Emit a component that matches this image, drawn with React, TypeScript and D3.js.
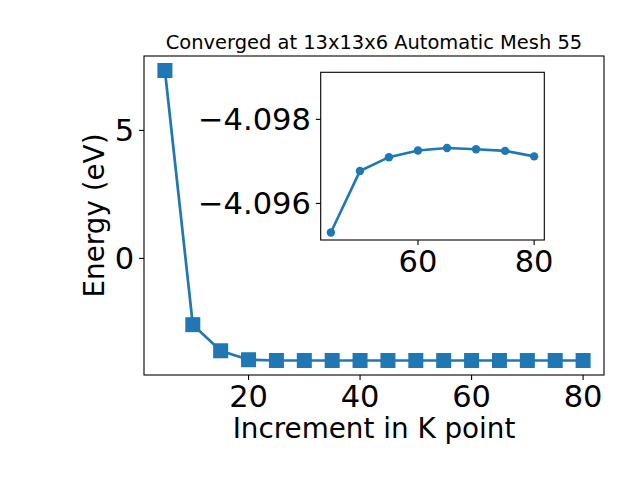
import React from "react";
import * as d3 from "d3";

const kPoints = [5, 10, 15, 20, 25, 30, 35, 40, 45, 50, 55, 60, 65, 70, 75, 80];
const energies = [7.34, -2.59, -3.61, -3.96, -3.99, -3.99, -3.99, -3.99, -3.99, -3.99, -3.99, -3.99, -3.99, -3.99, -3.99, -3.99];

const insetK = [45, 50, 55, 60, 65, 70, 75, 80];
const insetEnergy = [-4.09531, -4.09677, -4.0971, -4.09726, -4.09732, -4.09729, -4.09725, -4.09712];
const insetYLimits = [-4.09513, -4.09912];

const mainXTicks = [20, 40, 60, 80];
const mainYTicks = [0, 5];
const insetXTicks = [60, 80];
const insetYTicks = [-4.098, -4.096];

const titleText = "Converged at 13x13x6 Automatic Mesh 55";
const xLabel = "Increment in K point";
const yLabel = "Energy (eV)";

const COLOR = "#1f77b4";
const FONT = "DejaVu Sans";

function padded(ext: [number, number]): [number, number] {
  const m = (ext[1] - ext[0]) * 0.05;
  return [ext[0] - m, ext[1] + m];
}

export default function App() {
  const W = 640, H = 480;
  const L = 144, R = 604, T = 56, B = 375;
  const iL = 320.7, iR = 544.3, iT = 72.3, iB = 240;
  const tickLen = 4.9;
  const fs = 27.8;
  const tfs = 30.5;

  const x = d3.scaleLinear().domain(padded(d3.extent(kPoints) as [number, number])).range([L, R]);
  const y = d3.scaleLinear().domain(padded(d3.extent(energies) as [number, number])).range([B, T]);
  const ix = d3.scaleLinear().domain(padded(d3.extent(insetK) as [number, number])).range([iL, iR]);
  const iy = d3.scaleLinear().domain(insetYLimits).range([iB, iT]);

  const line = d3.line<number>().x((d, i) => x(kPoints[i])).y((d) => y(d));
  const iline = d3.line<number>().x((d, i) => ix(insetK[i])).y((d) => iy(d));
  const fmt3 = d3.format(".3f");
  const ms = 15;

  return (
    <svg width={W} height={H} style={{ display: "block", position: "absolute", left: 0, top: 0 }} fontFamily={FONT}>
      <rect x={0} y={0} width={W} height={H} fill="white" />
      {/* main plot */}
      <path d={line(energies) || ""} fill="none" stroke={COLOR} strokeWidth={2.7} />
      {energies.map((e, i) => (
        <rect key={i} x={x(kPoints[i]) - ms / 2} y={y(e) - ms / 2} width={ms} height={ms} fill={COLOR} />
      ))}
      <rect x={L} y={T} width={R - L} height={B - T} fill="none" stroke="black" strokeWidth={1.1} />
      {mainXTicks.map((t) => (
        <g key={t}>
          <line x1={x(t)} x2={x(t)} y1={B} y2={B + tickLen} stroke="black" strokeWidth={1.1} />
          <text x={x(t)} y={407} textAnchor="middle" fontSize={tfs}>{t}</text>
        </g>
      ))}
      {mainYTicks.map((t) => (
        <g key={t}>
          <line x1={L - tickLen} x2={L} y1={y(t)} y2={y(t)} stroke="black" strokeWidth={1.1} />
          <text x={L - tickLen - 4.9} y={y(t)} dy="0.36em" textAnchor="end" fontSize={tfs}>{t}</text>
        </g>
      ))}
      <text x={(L + R) / 2} y={438} textAnchor="middle" fontSize={fs}>{xLabel}</text>
      <text transform={`translate(104, ${(T + B) / 2}) rotate(-90)`} textAnchor="middle" fontSize={fs}>{yLabel}</text>
      <text x={(L + R) / 2} y={48.5} textAnchor="middle" fontSize={19.45}>{titleText}</text>

      {/* inset */}
      <rect x={iL} y={iT} width={iR - iL} height={iB - iT} fill="white" />
      <path d={iline(insetEnergy) || ""} fill="none" stroke={COLOR} strokeWidth={2.6} />
      {insetEnergy.map((e, i) => (
        <circle key={i} cx={ix(insetK[i])} cy={iy(e)} r={4.2} fill={COLOR} />
      ))}
      <rect x={iL} y={iT} width={iR - iL} height={iB - iT} fill="none" stroke="black" strokeWidth={1.1} />
      {insetXTicks.map((t) => (
        <g key={t}>
          <line x1={ix(t)} x2={ix(t)} y1={iB} y2={iB + tickLen} stroke="black" strokeWidth={1.1} />
          <text x={ix(t)} y={272} textAnchor="middle" fontSize={tfs}>{t}</text>
        </g>
      ))}
      {insetYTicks.map((t) => (
        <g key={t}>
          <line x1={iL - tickLen} x2={iL} y1={iy(t)} y2={iy(t)} stroke="black" strokeWidth={1.1} />
          <text x={iL - tickLen - 4.9} y={iy(t)} dy="0.36em" textAnchor="end" fontSize={tfs}>{fmt3(t)}</text>
        </g>
      ))}
    </svg>
  );
}
